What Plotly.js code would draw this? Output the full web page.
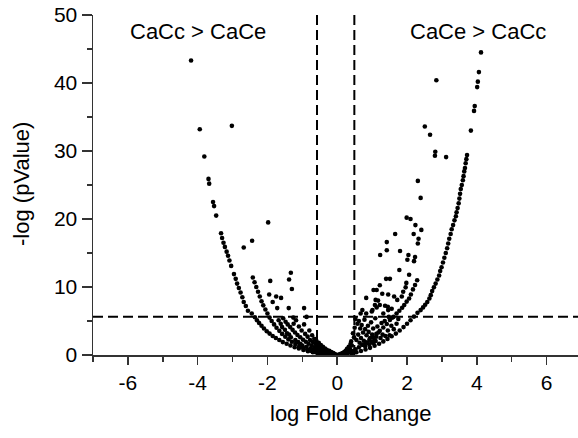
<!DOCTYPE html>
<html>
<head>
<meta charset="utf-8">
<script src="https://cdn.plot.ly/plotly-3.0.1.min.js"></script>
<style>
  html, body { margin: 0; padding: 0; background: #fff; }
  #chart { width: 578px; height: 438px; }
</style>
</head>
<body>
<div id="chart"></div>
<script>
// Proteins higher in CaCc (negative log fold change)
const leftFold = [
  -4.19, -3.94, -3.02, -3.81, -3.69, -3.67, -3.56, -3.53, -3.47,
  -3.33, -3.30, -3.26, -3.22, -3.17, -3.13, -3.09, -3.04, -2.96, -2.91, -2.87, -2.82, -2.77, -2.72, -2.68, -2.62, -2.56,
  -2.45, -2.36, -2.30, -2.24, -2.17, -2.10, -2.02, -1.94, -1.85, -1.76, -1.66, -1.56, -1.45, -1.34, -1.22, -1.10, -0.97, -0.84, -0.70, -0.56, -0.42, -0.28, -0.14,
  -2.42, -2.37, -2.32, -2.27, -2.22, -2.17, -2.12, -2.06, -2.00, -1.94, -1.88, -1.81, -1.74, -1.66, -1.58, -1.49, -1.40, -1.30, -1.20, -1.09, -0.98, -0.86, -0.74, -0.62, -0.50, -0.37, -0.25, -0.12,
  -2.68, -2.44, -1.98, -1.33, -1.38, -1.30, -1.92, -1.95, -1.75, -1.61, -1.85, -1.72, -1.39, -0.95, -0.88,
  -1.55, -1.48, -1.42, -1.35, -1.28, -1.21, -1.14, -1.06, -0.98, -0.90, -0.82, -0.73, -0.64, -0.55, -0.46, -0.37, -0.28, -0.19, -0.10,
  -1.62, -1.50, -1.44, -1.25, -1.18, -1.10, -1.02, -0.95, -0.92, -0.85, -0.80, -0.78, -0.72, -0.70, -0.66, -0.62, -0.60, -0.57,
  -0.53, -0.50, -0.47, -0.44, -0.41, -0.38, -0.35, -0.32, -0.30, -0.26, -0.23, -0.20, -0.17, -0.14, -0.11, -0.08, -0.05,
  -1.33, -1.20, -1.12, -1.05, -1.38, -1.58, -1.68, -1.26, -1.00, -0.88, -0.76, -0.65, -0.58, -0.52, -0.45, -0.40, -0.33, -0.27, -0.21, -0.15, -0.09, -0.04
];
const leftLogP = [
  43.3, 33.2, 33.7, 29.2, 25.9, 25.2, 22.5, 21.9, 20.5,
  17.9, 17.2, 16.5, 15.9, 15.2, 14.6, 13.9, 13.1, 11.9, 11.2, 10.5, 9.85, 9.2, 8.5, 7.8, 7.2, 6.5,
  6.1, 5.55, 5.1, 4.7, 4.3, 3.9, 3.5, 3.15, 2.8, 2.5, 2.2, 1.9, 1.65, 1.4, 1.15, 0.95, 0.75, 0.55, 0.4, 0.27, 0.16, 0.08, 0.03,
  11.4, 10.7, 10.0, 9.3, 8.6, 7.9, 7.3, 6.7, 6.1, 5.5, 5.0, 4.5, 4.0, 3.55, 3.1, 2.7, 2.3, 1.95, 1.6, 1.3, 1.05, 0.8, 0.6, 0.42, 0.28, 0.16, 0.08, 0.02,
  15.8, 16.8, 19.5, 12.1, 11.1, 9.7, 10.9, 8.9, 8.6, 8.4, 7.8, 6.9, 6.9, 6.9, 5.6,
  5.4, 4.9, 4.5, 4.1, 3.7, 3.3, 2.95, 2.6, 2.25, 1.95, 1.65, 1.35, 1.1, 0.85, 0.6, 0.42, 0.26, 0.14, 0.05,
  4.6, 3.7, 3.2, 4.6, 5.1, 4.2, 3.6, 4.5, 3.1, 2.7, 3.6, 2.2, 2.9, 1.9, 2.4, 1.6, 2.1, 1.3,
  1.8, 1.05, 1.45, 0.85, 1.2, 0.7, 0.95, 0.55, 0.78, 0.45, 0.6, 0.35, 0.45, 0.25, 0.3, 0.15, 0.08,
  2.6, 2.2, 1.9, 1.6, 3.0, 4.1, 5.1, 5.5, 1.4, 1.2, 1.0, 0.9, 0.7, 0.65, 0.5, 0.55, 0.35, 0.3, 0.2, 0.12, 0.06, 0.02
];

// Proteins higher in CaCe (positive log fold change)
const rightFold = [
  4.12, 4.06, 4.03, 4.01, 3.94, 3.92, 3.83, 2.84, 2.51, 2.66, 2.81, 2.80, 3.12, 2.31, 2.39,
  3.72, 3.70, 3.68, 3.66, 3.64, 3.62, 3.60, 3.57, 3.54, 3.52, 3.50, 3.48, 3.45, 3.42, 3.40, 3.36, 3.32, 3.28, 3.25, 3.21,
  3.18, 3.15, 3.11, 3.07, 3.03, 2.99, 2.95, 2.92, 2.87, 2.82, 2.77, 2.72, 2.68, 2.64, 2.58, 2.52, 2.46, 2.39,
  2.30, 2.20, 2.10, 2.00, 1.90, 1.79, 1.68, 1.56, 1.44, 1.32, 1.20, 1.07, 0.94, 0.81, 0.68, 0.55, 0.42, 0.29, 0.16,
  2.29, 2.23, 2.17, 2.11, 2.06, 1.99, 1.92, 1.86, 1.78, 1.70, 1.61, 1.51, 1.42, 1.32, 1.22, 1.12, 1.02, 0.92, 0.82, 0.72, 0.62, 0.52, 0.42, 0.32, 0.22, 0.12,
  1.99, 2.10, 2.24, 1.66, 2.41, 2.19, 2.33, 2.31, 1.42, 1.42, 1.80, 1.23, 2.04, 2.23, 2.01, 2.20, 1.78, 2.06, 1.40, 1.51,
  1.98, 1.22, 1.96, 1.04, 1.13, 1.89, 1.85, 1.29, 1.46, 0.83, 1.17, 1.63, 1.72, 1.08, 1.22, 1.37, 1.46, 1.56, 0.83, 0.99,
  1.32, 1.10, 1.01, 1.13, 1.45, 0.67, 0.72,
  0.52, 0.58, 0.62, 0.66, 0.70, 0.74, 0.78, 0.80, 0.84, 0.88, 0.90, 0.94, 0.97, 1.00, 1.03, 1.06, 1.09, 1.12, 1.15, 1.18,
  1.24, 1.27, 1.30, 1.36, 1.38, 1.45, 1.50, 1.55, 1.62, 1.70, 1.75, 1.58, 1.48,
  0.45, 0.48, 0.50, 0.55, 0.60, 0.64, 0.68, 0.72, 0.76, 0.80, 0.86, 0.92, 0.98, 1.04, 1.10,
  0.40, 0.42, 0.36, 0.38, 0.30, 0.33, 0.26, 0.28, 0.22, 0.24, 0.18, 0.20, 0.14, 0.16, 0.10, 0.12, 0.06, 0.08, 0.04, 0.02
];
const rightLogP = [
  44.5, 41.6, 40.2, 39.4, 36.6, 35.9, 33.0, 40.4, 33.6, 32.4, 29.9, 29.3, 29.1, 25.6, 23.1,
  29.4, 28.8, 28.2, 27.5, 27.0, 26.3, 25.7, 25.0, 24.4, 23.7, 23.0, 22.3, 21.6, 21.0, 20.4, 19.8, 19.1, 18.5, 17.8, 17.1,
  16.4, 15.7, 15.0, 14.3, 13.6, 12.9, 12.35, 11.7, 11.1, 10.5, 9.95, 9.4, 8.8, 8.3, 7.8, 7.4, 7.0, 6.6,
  6.2, 5.65, 5.1, 4.6, 4.1, 3.6, 3.15, 2.75, 2.35, 2.0, 1.65, 1.35, 1.05, 0.8, 0.58, 0.4, 0.24, 0.12, 0.04,
  11.0, 10.3, 9.65, 8.9, 8.3, 7.85, 7.35, 6.95, 6.5, 6.1, 5.6, 5.15, 4.55, 4.05, 3.55, 3.1, 2.65, 2.25, 1.85, 1.5, 1.15, 0.85, 0.58, 0.36, 0.18, 0.06,
  20.2, 20.0, 19.1, 17.8, 18.4, 17.8, 17.1, 16.4, 16.6, 15.4, 15.3, 14.7, 14.7, 14.4, 14.0, 13.8, 12.5, 11.8, 11.2, 11.2,
  10.6, 10.25, 9.95, 9.55, 9.55, 9.3, 8.6, 9.0, 8.9, 8.4, 8.0, 8.6, 8.1, 7.35, 7.35, 7.25, 6.6, 6.8, 6.1, 6.4,
  6.1, 8.1, 6.6, 7.0, 7.1, 6.1, 6.6,
  5.3, 4.6, 5.0, 3.9, 4.4, 3.3, 5.2, 3.8, 2.9, 4.3, 3.4, 2.5, 4.8, 3.0, 3.9, 2.2, 5.4, 2.7, 4.2, 3.3,
  2.5, 4.7, 3.0, 5.0, 2.8, 3.6, 2.9, 4.3, 3.8, 4.6, 5.3, 5.5, 5.6,
  3.2, 2.6, 4.0, 2.2, 3.0, 1.8, 2.5, 1.5, 2.1, 1.3, 1.8, 1.55, 1.9, 1.75, 2.05,
  2.0, 1.4, 1.0, 1.6, 0.7, 1.2, 0.5, 0.9, 0.35, 0.6, 0.25, 0.45, 0.15, 0.3, 0.08, 0.2, 0.04, 0.1, 0.02, 0.01
];

// Significance cut-offs
const pValueCut = 5.63;
const foldCutDown = -0.58;
const foldCutUp = 0.49;

// Axis ticks
const xTickVals = [-6, -4, -2, 0, 2, 4, 6];
const xTickText = ["-6", "-4", "-2", "0", "2", "4", "6"];
const yTickVals = [0, 10, 20, 30, 40, 50];
const yTickText = ["0", "10", "20", "30", "40", "50"];

const FONT = "Liberation Sans, Arial, sans-serif";
const dotStyle = { color: "#000", size: 4.6, line: { width: 0 } };

const traces = [
  { x: leftFold, y: leftLogP, type: "scatter", mode: "markers", marker: dotStyle, hoverinfo: "x+y" },
  { x: rightFold, y: rightLogP, type: "scatter", mode: "markers", marker: dotStyle, hoverinfo: "x+y" }
];

const dash = { color: "#000", width: 2, dash: "10px,5px" };

const layout = {
  width: 578,
  height: 438,
  margin: { l: 93, r: 0, t: 15, b: 83 },
  paper_bgcolor: "#fff",
  plot_bgcolor: "#fff",
  showlegend: false,
  font: { family: FONT, size: 21, color: "#000" },
  xaxis: {
    range: [-7, 6.9],
    showgrid: false,
    zeroline: false,
    showline: true,
    linecolor: "#333",
    linewidth: 1.5,
    ticks: "outside",
    ticklen: 8,
    tickwidth: 1.5,
    tickcolor: "#333",
    tickmode: "array",
    tickvals: xTickVals,
    ticktext: xTickText,
    tickfont: { family: FONT, size: 21, color: "#000" },
    minor: { tickmode: "linear", tick0: 0, dtick: 1, ticks: "outside", ticklen: 5, tickwidth: 1.5, tickcolor: "#333", showgrid: false }
  },
  yaxis: {
    range: [0, 50],
    showgrid: false,
    zeroline: false,
    showline: true,
    linecolor: "#333",
    linewidth: 1.5,
    ticks: "outside",
    ticklen: 10,
    tickwidth: 1.5,
    tickcolor: "#333",
    tickmode: "array",
    tickvals: yTickVals,
    ticktext: yTickText,
    tickfont: { family: FONT, size: 21, color: "#000" },
    minor: { tickmode: "linear", tick0: 0, dtick: 5, ticks: "outside", ticklen: 5, tickwidth: 1.5, tickcolor: "#333", showgrid: false }
  },
  shapes: [
    { type: "line", xref: "paper", yref: "y", x0: 0, x1: 1, y0: pValueCut, y1: pValueCut, line: dash },
    { type: "line", xref: "x", yref: "paper", x0: foldCutDown, x1: foldCutDown, y0: 0, y1: 1, line: dash },
    { type: "line", xref: "x", yref: "paper", x0: foldCutUp, x1: foldCutUp, y0: 0, y1: 1, line: dash }
  ],
  annotations: [
    { text: "CaCc > CaCe", xref: "x", yref: "y", x: -4.0, y: 47.6, showarrow: false,
      xanchor: "center", yanchor: "middle", font: { family: FONT, size: 22, color: "#000" } },
    { text: "CaCe > CaCc", xref: "x", yref: "y", x: 4.02, y: 47.6, showarrow: false,
      xanchor: "center", yanchor: "middle", font: { family: FONT, size: 22, color: "#000" } },
    { text: "log Fold Change", xref: "paper", yref: "paper", x: 0.531, y: -0.1735, showarrow: false,
      xanchor: "center", yanchor: "middle", font: { family: FONT, size: 22, color: "#000" } },
    { text: "-log (pValue)", xref: "paper", yref: "paper", x: -0.1464, y: 0.503, showarrow: false,
      textangle: -90, xanchor: "center", yanchor: "middle", font: { family: FONT, size: 22, color: "#000" } }
  ]
};

Plotly.newPlot("chart", traces, layout, { staticPlot: true, displayModeBar: false });
</script>
</body>
</html>
